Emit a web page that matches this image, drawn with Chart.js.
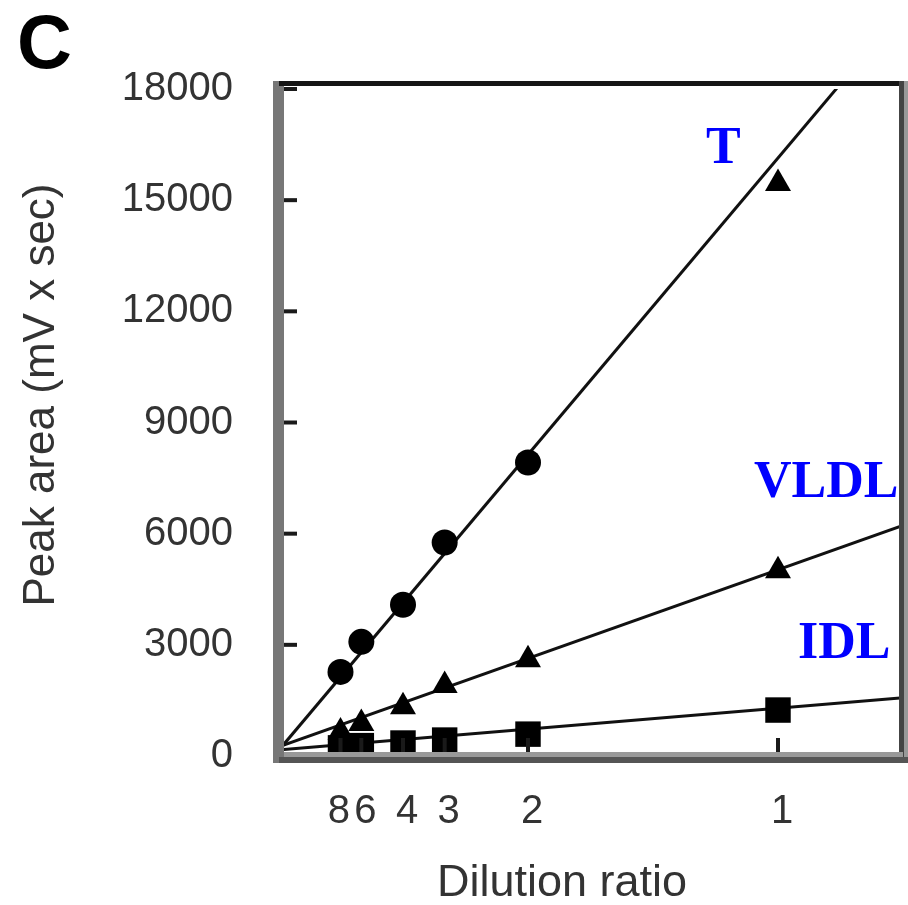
<!DOCTYPE html>
<html>
<head>
<meta charset="utf-8">
<script src="https://cdn.jsdelivr.net/npm/chart.js@4.4.1/dist/chart.umd.min.js"></script>
<style>
  html, body { margin: 0; padding: 0; background: #fff; }
  #grafico { display: block; }
</style>
</head>
<body>
<canvas id="grafico" width="908" height="905"></canvas>
<script>
// Dados
const diluicoes = [8, 6, 4, 3, 2, 1];
const xTickLabels = ["8", "6", "4", "3", "2", "1"];
const yTicks = [0, 3000, 6000, 9000, 12000, 15000, 18000];

const valoresT = [2270, 3080, 4080, 5760, 7920, 15450];
const valoresVLDL = [650, 880, 1330, 1900, 2600, 5000];
const valoresIDL = [220, 280, 350, 430, 590, 1240];

// retas de ajuste (extremos)
const retaT = [[0, 130], [1.25, 20140]];
const retaVLDL = [[0, 240], [1.25, 6220]];
const retaIDL = [[0, 160], [1.25, 1570]];

// rotulos azuis (posicao em unidades dos eixos)
const rotulos = [
    { texto: "T", x: 0.856, y: 16000 },
    { texto: "VLDL", x: 0.952, y: 7000 },
    { texto: "IDL", x: 1.04, y: 2650 }
];

const tituloX = "Dilution ratio";
const tituloY = "Peak area (mV x sec)";

function pontos(valores) {
    return diluicoes.map((d, i) => ({ x: 1 / d, y: valores[i] }));
}

function reta(pares) {
    return pares.map(p => ({ x: p[0], y: p[1] }));
}

const estiloT = diluicoes.map((d, i) => i === diluicoes.length - 1 ? "triangle" : "circle");
const raioT = diluicoes.map((d, i) => i === diluicoes.length - 1 ? 15 : 13);

const familia = "'Liberation Sans', Arial, sans-serif";

// Moldura, marcas internas e rotulos
const moldura = {
    id: "moldura",
    afterDatasetsDraw(chart) {
        const { ctx, chartArea: a, scales: { x, y } } = chart;
        ctx.save();

        ctx.fillStyle = "#1a1a1a";
        yTicks.forEach(v => {
            const py = y.getPixelForValue(v);
            ctx.fillRect(a.left + 5, py - 2, 14, 4);
        });
        diluicoes.forEach(d => {
            const px = x.getPixelForValue(1 / d);
            ctx.fillRect(px - 2, a.bottom - 18, 4, 16);
        });

        // esquerda
        ctx.fillStyle = "#777";
        ctx.fillRect(a.left - 5, a.top - 8, 11, a.bottom - a.top + 15);
        // topo
        ctx.fillStyle = "#151515";
        ctx.fillRect(a.left + 1, a.top - 8, a.right - a.left + 4, 5);
        // direita
        ctx.fillStyle = "#444";
        ctx.fillRect(a.right - 4, a.top - 8, 5, a.bottom - a.top + 15);
        ctx.fillStyle = "#999";
        ctx.fillRect(a.right + 1, a.top - 8, 4, a.bottom - a.top + 15);
        // base
        ctx.fillStyle = "#999";
        ctx.fillRect(a.left + 6, a.bottom - 4, a.right - a.left - 6, 5);
        ctx.fillStyle = "#555";
        ctx.fillRect(a.left + 1, a.bottom + 1, a.right - a.left + 4, 6);

        // rotulos das series
        ctx.fillStyle = "#0000ff";
        ctx.font = "bold 52px 'Liberation Serif', 'Times New Roman', serif";
        ctx.textAlign = "left";
        ctx.textBaseline = "alphabetic";
        rotulos.forEach(r => {
            ctx.fillText(r.texto, x.getPixelForValue(r.x), y.getPixelForValue(r.y));
        });

        // titulos dos eixos
        ctx.fillStyle = "#333";
        ctx.textAlign = "center";
        ctx.textBaseline = "middle";
        ctx.font = "45px " + familia;
        ctx.fillText(tituloX, 562, 884);
        ctx.save();
        ctx.translate(42, 395);
        ctx.rotate(-Math.PI / 2);
        ctx.font = "44px " + familia;
        ctx.fillText(tituloY, 0, 0);
        ctx.restore();

        // letra do painel
        ctx.fillStyle = "#000";
        ctx.textAlign = "left";
        ctx.textBaseline = "alphabetic";
        ctx.font = "bold 76px " + familia;
        ctx.fillText("C", 17, 68);

        ctx.restore();
    }
};

const fonteEixo = { family: familia, size: 40 };

const ctx = document.getElementById("grafico").getContext("2d");
new Chart(ctx, {
    type: "scatter",
    data: {
        datasets: [
            {
                label: "T",
                data: pontos(valoresT),
                pointStyle: estiloT,
                pointRadius: raioT,
                backgroundColor: "#000",
                borderColor: "#000",
                borderWidth: 0,
                clip: false,
                order: 0
            },
            {
                label: "VLDL",
                data: pontos(valoresVLDL),
                pointStyle: "triangle",
                pointRadius: 15,
                backgroundColor: "#000",
                borderColor: "#000",
                borderWidth: 0,
                clip: false,
                order: 0
            },
            {
                label: "IDL",
                data: pontos(valoresIDL),
                pointStyle: "rect",
                pointRadius: 18,
                backgroundColor: "#000",
                borderColor: "#000",
                borderWidth: 0,
                clip: false,
                order: 0
            },
            {
                type: "line",
                label: "ajuste T",
                data: reta(retaT),
                borderColor: "#111",
                borderWidth: 3,
                pointRadius: 0,
                fill: false,
                order: 1
            },
            {
                type: "line",
                label: "ajuste VLDL",
                data: reta(retaVLDL),
                borderColor: "#111",
                borderWidth: 3,
                pointRadius: 0,
                fill: false,
                order: 1
            },
            {
                type: "line",
                label: "ajuste IDL",
                data: reta(retaIDL),
                borderColor: "#111",
                borderWidth: 3,
                pointRadius: 0,
                fill: false,
                order: 1
            }
        ]
    },
    options: {
        responsive: false,
        animation: false,
        devicePixelRatio: 1,
        layout: { autoPadding: false, padding: { top: 89, right: 5, left: 0, bottom: 0 } },
        plugins: {
            legend: { display: false },
            tooltip: { enabled: false }
        },
        scales: {
            x: {
                type: "linear",
                min: 0,
                max: 1.25,
                grid: { display: false, drawTicks: false },
                border: { display: false },
                afterBuildTicks: scale => {
                    scale.ticks = diluicoes.map(d => ({ value: 1 / d }));
                },
                afterFit: scale => { scale.height = 149; },
                ticks: {
                    autoSkip: false,
                    maxRotation: 0,
                    padding: 32,
                    labelOffset: 4,
                    color: "#333",
                    font: fonteEixo,
                    // o "8" fica um pouco deslocado para a esquerda, como no original
                    callback: (value, index) => index === 0 ? xTickLabels[index] + " " : xTickLabels[index]
                }
            },
            y: {
                type: "linear",
                min: 0,
                max: 18000,
                grid: { display: false, drawTicks: false },
                border: { display: false },
                afterBuildTicks: scale => {
                    scale.ticks = yTicks.map(v => ({ value: v }));
                },
                afterFit: scale => { scale.width = 278; },
                ticks: {
                    padding: 45,
                    color: "#333",
                    font: fonteEixo,
                    callback: value => String(value)
                }
            }
        }
    },
    plugins: [moldura]
});
</script>
</body>
</html>
